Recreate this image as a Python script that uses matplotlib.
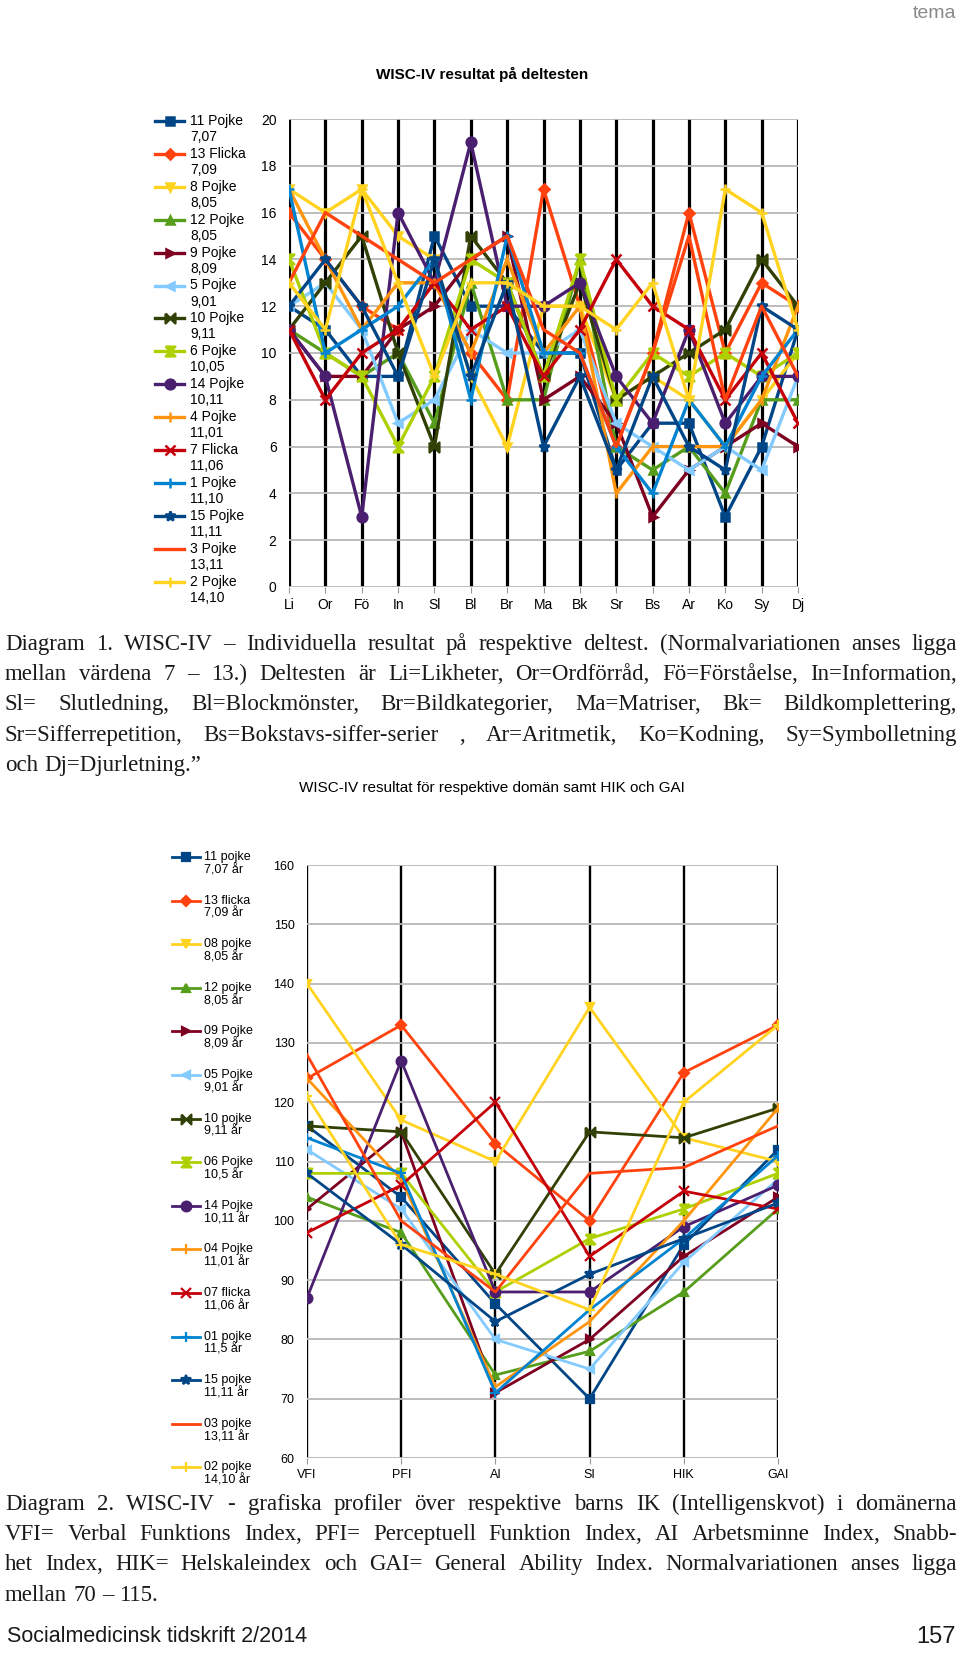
import matplotlib
matplotlib.use('Agg')
import matplotlib.pyplot as plt
from matplotlib.lines import Line2D
from matplotlib.path import Path

W, H = 960, 1653

# ---- Diagram 1: subtest scores ----
subtests = ['Li', 'Or', 'Fö', 'In', 'Sl', 'Bl', 'Br', 'Ma', 'Bk', 'Sr', 'Bs', 'Ar', 'Ko', 'Sy', 'Dj']
labels1 = ['11 Pojke\n7,07', '13 Flicka\n7,09', '8 Pojke\n8,05', '12 Pojke\n8,05', '9 Pojke\n8,09',
           '5 Pojke\n9,01', '10 Pojke\n9,11', '6 Pojke\n10,05', '14 Pojke\n10,11', '4 Pojke\n11,01',
           '7 Flicka\n11,06', '1 Pojke\n11,10', '15 Pojke\n11,11', '3 Pojke\n13,11', '2 Pojke\n14,10']
p11 = [12, 11, 9, 9, 15, 12, 12, 10, 10, 5, 7, 7, 3, 6, 11]
f13 = [16, 14, 12, 11, 13, 10, 8, 17, 12, 6, 10, 16, 10, 13, 12]
p8 = [17, 16, 17, 15, 14, 9, 6, 12, 12, 8, 9, 8, 6, 8, 10]
p12 = [11, 10, 9, 10, 7, 13, 8, 8, 14, 6, 5, 6, 4, 8, 8]
p9 = [11, 9, 9, 11, 12, 14, 15, 8, 9, 7, 3, 5, 6, 7, 6]
p5 = [12, 13, 11, 7, 8, 11, 10, 10, 11, 7, 6, 5, 6, 5, 9]
p10 = [11, 13, 15, 10, 6, 15, 13, 9, 13, 8, 9, 10, 11, 14, 12]
p6 = [14, 10, 9, 6, 9, 14, 13, 9, 14, 8, 10, 9, 10, 9, 10]
p14 = [11, 9, 3, 16, 13, 19, 12, 12, 13, 9, 7, 11, 7, 9, 9]
p4 = [17, 14, 11, 13, 13, 10, 14, 10, 12, 4, 6, 6, 6, 8, 12]
f7 = [11, 8, 10, 11, 13, 11, 12, 9, 11, 14, 12, 11, 8, 10, 7]
p1 = [17, 10, 11, 12, 14, 8, 15, 10, 10, 6, 4, 8, 6, 9, 11]
p15 = [12, 14, 12, 9, 14, 9, 13, 6, 9, 5, 9, 6, 5, 12, 11]
p3 = [13, 16, 15, 14, 13, 14, 15, 11, 10, 6, 10, 15, 8, 12, 9]
p2 = [13, 11, 17, 13, 9, 13, 13, 12, 12, 11, 13, 8, 17, 16, 11]
scores1 = [p11, f13, p8, p12, p9, p5, p10, p6, p14, p4, f7, p1, p15, p3, p2]

# ---- Diagram 2: index scores ----
domains = ['VFI', 'PFI', 'AI', 'SI', 'HIK', 'GAI']
labels2 = ['11 pojke\n7,07 år', '13 flicka\n7,09 år', '08 pojke\n8,05 år', '12 pojke\n8,05 år',
           '09 Pojke\n8,09 år', '05 Pojke\n9,01 år', '10 pojke\n9,11 år', '06 Pojke\n10,5 år',
           '14 Pojke\n10,11 år', '04 Pojke\n11,01 år', '07 flicka\n11,06 år', '01 pojke\n11,5 år',
           '15 pojke\n11,11 år', '03 pojke\n13,11 år', '02 pojke\n14,10 år']
b_p11 = [116, 104, 86, 70, 96, 112]
b_f13 = [124, 133, 113, 100, 125, 133]
b_p08 = [140, 117, 110, 136, 114, 110]
b_p12 = [104, 98, 74, 78, 88, 102]
b_p09 = [102, 115, 71, 80, 94, 104]
b_p05 = [112, 102, 80, 75, 93, 107]
b_p10 = [116, 115, 91, 115, 114, 119]
b_p06 = [108, 108, 88, 97, 102, 108]
b_p14 = [87, 127, 88, 88, 99, 106]
b_p04 = [124, 107, 72, 83, 100, 119]
b_f07 = [98, 106, 120, 94, 105, 102]
b_p01 = [114, 108, 71, 85, 97, 111]
b_p15 = [108, 96, 83, 91, 97, 103]
b_p03 = [128, 100, 88, 108, 109, 116]
b_p02 = [121, 96, 91, 85, 120, 133]
scores2 = [b_p11, b_f13, b_p08, b_p12, b_p09, b_p05, b_p10, b_p06, b_p14, b_p04,
           b_f07, b_p01, b_p15, b_p03, b_p02]

# LibreOffice default palette, repeated after 12 series
colors = ['#004586', '#ff420e', '#ffd320', '#579d1c', '#7e0021', '#83caff', '#314004',
          '#aecf00', '#4b1f6f', '#ff950e', '#c5000b', '#0084d1', '#004586', '#ff420e', '#ffd320']
bowtie = Path([(-1, 1), (-1, -1), (1, 1), (1, -1), (-1, 1)])
hourglass = Path([(-1, 1), (1, 1), (-1, -1), (1, -1), (-1, 1)])
markers = ['s', 'D', 'v', '^', '>', '<', bowtie, hourglass, 'o', '|', 'x', '+', '*', None, '+']
msizes = [6, 5, 6, 6, 6, 6, 7, 7, 7, 7, 7, 7, 7, 0, 7]

plt.rcParams['font.family'] = ['Liberation Sans', 'DejaVu Sans']
fig = plt.figure(figsize=(W / 100, H / 100), dpi=100)


def fx(px):
    return px / W


def fy(px):
    return 1 - px / H


def style_axes(ax, cats, vlw, size):
    ax.set_axisbelow(True)
    for s in ax.spines.values():
        s.set_visible(False)
    ax.grid(axis='x', color='black', lw=vlw)
    ax.grid(axis='y', color='#b8b8b8', lw=1.3)
    ax.set_xlim(0, len(cats) - 1)
    ax.set_xticks(range(len(cats)))
    ax.set_xticklabels(cats)
    ax.tick_params(axis='x', length=4, color='#999999', labelsize=size, pad=4)
    ax.tick_params(axis='y', length=0, labelsize=size, pad=9)


def side_legend(lines, x0, x1, xt, y0, dy, size, gap):
    # handle sits level with the first label line, second line hangs below
    for i, ln in enumerate(lines):
        y = y0 + i * dy
        fig.add_artist(Line2D([fx(x0), fx((x0 + x1) / 2), fx(x1)], [fy(y)] * 3,
                              color=ln.get_color(), lw=ln.get_linewidth(),
                              marker=ln.get_marker(), ms=ln.get_markersize(),
                              mew=ln.get_markeredgewidth(), markevery=[1]))
        first, second = ln.get_label().split('\n')
        fig.text(fx(xt), fy(y), first, va='center', fontsize=size)
        fig.text(fx(xt), fy(y + gap), second, va='center', fontsize=size)


# top chart
ax1 = fig.add_axes([fx(289), fy(587), fx(798 - 289), (587 - 119) / H])
lines1 = []
for vals, lab, c, m, ms in zip(scores1, labels1, colors, markers, msizes):
    lines1 += ax1.plot(range(len(subtests)), vals, color=c, lw=2.4, marker=m, ms=ms,
                       mew=1.8, label=lab)
style_axes(ax1, subtests, 2.3, 10)
ax1.set_ylim(0, 20)
ax1.set_yticks(range(0, 21, 2))
fig.text(fx(482), fy(74), 'WISC-IV resultat på deltesten', ha='center', va='center',
         fontsize=11, fontweight='bold')
side_legend(lines1, 155, 184, 190, 121, 32.9, 10, 16)

# bottom chart
ax2 = fig.add_axes([fx(307), fy(1458), fx(778 - 307), (1458 - 865) / H])
lines2 = []
for vals, lab, c, m, ms in zip(scores2, labels2, colors, markers, msizes):
    lines2 += ax2.plot(range(len(domains)), vals, color=c, lw=2.0, marker=m, ms=ms,
                       mew=1.6, label=lab)
style_axes(ax2, domains, 1.7, 9)
ax2.set_ylim(60, 160)
ax2.set_yticks(range(60, 161, 10))
fig.text(fx(492), fy(788), 'WISC-IV resultat för respektive domän samt HIK och GAI',
         ha='center', va='center', fontsize=11)
side_legend(lines2, 172, 200, 204, 857, 43.6, 9, 13)

# ---- captions (justified) ----
renderer = fig.canvas.get_renderer()
cap_kw = dict(family='Liberation Serif', fontsize=16.5, color='#1a1a1a', va='baseline')


def justify_line(text, y, last=False, x0=5, x1=957):
    words = text.split()
    arts = [fig.text(0, fy(y), w, **cap_kw) for w in words]
    widths = [a.get_window_extent(renderer).width for a in arts]
    if last or len(words) == 1:
        gap = 6
    else:
        gap = (x1 - x0 - sum(widths)) / (len(words) - 1)
    x = x0
    for a, wd in zip(arts, widths):
        a.set_x(fx(x))
        x += wd + gap


caption1 = [
    'Diagram 1. WISC-IV – Individuella resultat på respektive deltest. (Normalvariationen anses ligga',
    'mellan värdena 7 – 13.)  Deltesten är Li=Likheter, Or=Ordförråd, Fö=Förståelse, In=Information,',
    'Sl= Slutledning, Bl=Blockmönster, Br=Bildkategorier, Ma=Matriser, Bk= Bildkomplettering,',
    'Sr=Sifferrepetition, Bs=Bokstavs-siffer-serier , Ar=Aritmetik, Ko=Kodning, Sy=Symbolletning',
    'och Dj=Djurletning.”',
]
caption2 = [
    'Diagram 2. WISC-IV - grafiska profiler över respektive barns IK (Intelligenskvot) i domänerna',
    'VFI= Verbal Funktions Index, PFI= Perceptuell Funktion Index, AI Arbetsminne Index, Snabb-',
    'het Index, HIK= Helskaleindex och GAI= General Ability Index. Normalvariationen anses ligga',
    'mellan 70 – 115.',
]
for i, line in enumerate(caption1):
    justify_line(line, 650 + i * 30.2, last=(i == len(caption1) - 1))
for i, line in enumerate(caption2):
    justify_line(line, 1510 + i * 30.2, last=(i == len(caption2) - 1))

# page furniture
fig.text(fx(956), fy(14), 'tema', ha='right', va='center', fontsize=14, color='#8a8a8a')
fig.text(fx(7), fy(1637), 'Socialmedicinsk tidskrift 2/2014', ha='left', va='center',
         fontsize=15.5, color='#1a1a1a')
fig.text(fx(956), fy(1637), '157', ha='right', va='center', fontsize=17, color='#1a1a1a')

fig.savefig('out.png', dpi=100)
